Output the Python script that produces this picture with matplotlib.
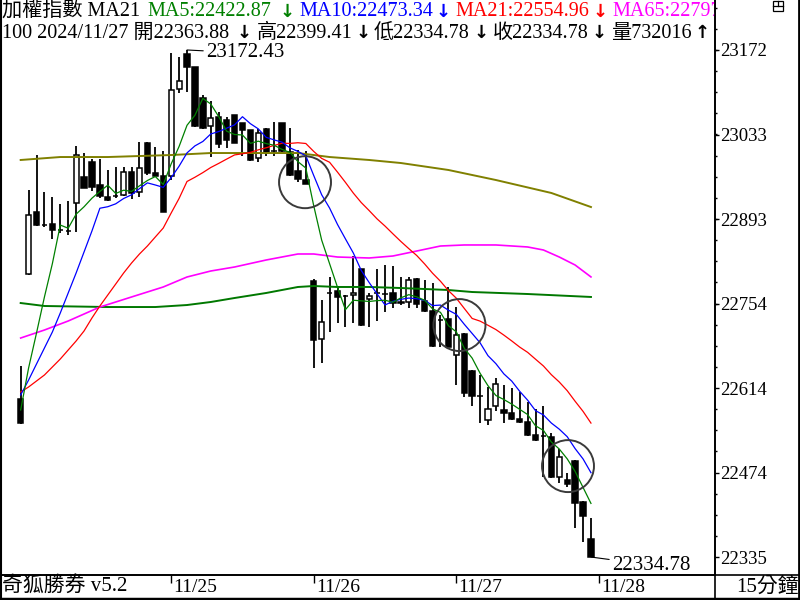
import numpy as np
import pandas as pd
import matplotlib
matplotlib.use("Agg")
import matplotlib.pyplot as plt
import matplotlib.transforms as mtransforms
from matplotlib.lines import Line2D
from matplotlib.patches import Rectangle
from matplotlib.ticker import AutoMinorLocator

plt.rcParams['font.family'] = ['Liberation Serif', 'Noto Sans CJK TC', 'DejaVu Sans']

# 15 minute bars of the TAIEX (tail of 11/22 .. 11/27)
opens = [22596, 22802, 22905, 22883, 22885, 22875, 22873, 22920, 22963, 22987,
         22949, 22930, 22931, 22933, 22971, 22938, 23019, 22969, 22964, 22964,
         23108, 23166, 23144, 23093, 23047, 23062, 23057, 23065, 23052, 23040,
         22994, 23042, 23006, 23052, 23004, 22973, 22958, 22791, 22695, 22771,
         22774, 22766, 22768, 22811, 22761, 22771, 22769, 22771, 22756, 22756,
         22794, 22758, 22741, 22726, 22728, 22669, 22703, 22642, 22601, 22561,
         22584, 22578, 22573, 22563, 22558, 22536, 22535, 22533, 22467, 22462,
         22493, 22426, 22363.88]
highs = [22650, 22941, 22999, 22938, 22930, 22918, 22923, 23014, 23002, 22992,
         22992, 22974, 22979, 22979, 22979, 23020, 23020, 23012, 23006, 23167,
         23161, 23172.43, 23144, 23098, 23088, 23070, 23062, 23065, 23052, 23040,
         23042, 23044, 23054, 23052, 23044, 23007, 23006, 22794, 22759, 22797,
         22779, 22768, 22832, 22811, 22771, 22811, 22817, 22816, 22797, 22797,
         22796, 22792, 22788, 22735, 22781, 22748, 22705, 22644, 22636, 22616,
         22631, 22619, 22614, 22607, 22591, 22579, 22584, 22540, 22513, 22474,
         22495, 22427, 22399.41]
lows = [22555, 22800, 22882, 22880, 22860, 22870, 22867, 22872, 22944, 22940,
        22928, 22923, 22928, 22931, 22926, 22930, 22966, 22963, 22905, 22957,
        23101, 23103, 23045, 23042, 22996, 23011, 23011, 23019, 22997, 22989,
        22987, 22997, 22997, 23004, 22964, 22954, 22951, 22647, 22655, 22707,
        22721, 22715, 22721, 22716, 22715, 22725, 22740, 22746, 22751, 22746,
        22746, 22740, 22682, 22682, 22682, 22619, 22599, 22584, 22556, 22553,
        22576, 22556, 22561, 22556, 22535, 22527, 22467, 22465, 22457, 22451,
        22383, 22360, 22334.78]
closes = [22556, 22900, 22883, 22883, 22875, 22875, 22874, 22999, 22944, 22946,
          22931, 22925, 22931, 22971, 22936, 22977, 22969, 22964, 22905, 23106,
          23121, 23144, 23047, 23044, 23060, 23017, 23024, 23019, 23040, 22991,
          23035, 23004, 23005, 23006, 22966, 22959, 22951, 22693, 22723, 22771,
          22764, 22766, 22771, 22718, 22766, 22771, 22769, 22754, 22755, 22792,
          22753, 22741, 22683, 22726, 22682, 22702, 22606, 22601, 22601, 22579,
          22621, 22573, 22563, 22558, 22536, 22528, 22535, 22467, 22500, 22455,
          22424, 22403, 22334.78]

# moving average values before the window is full
ma5_head = [22577.7, 22647.1, 22704.9, 22764.4]
ma10_head = [22602.5, 22627.2, 22653.7, 22680.1, 22706.5, 22737.9, 22771.0, 22804.0, 22838.7]
ma21_head = [22607.4, 22615.7, 22625.6, 22635.5, 22648.7, 22661.9, 22676.8, 22691.7, 22708.2,
             22729.7, 22749.5, 22767.7, 22785.8, 22804.0, 22820.5, 22835.4, 22848.6, 22863.5,
             22878.3, 22903.1]

ma65_idx = [0, 3, 6, 10, 14, 18, 21, 24, 27, 31, 35, 37, 40, 44, 47, 50, 53, 56, 60, 64, 66, 68, 70, 72]
ma65_val = [22696.6, 22709.8, 22724.7, 22747.8, 22764.4, 22780.9, 22797.4, 22807.3, 22813.9,
            22825.5, 22835.4, 22835.4, 22830.4, 22828.8, 22832.1, 22840.3, 22848.6, 22850.3,
            22850.3, 22847.0, 22842.0, 22830.4, 22817.2, 22797.5]

# long-period lines
olive_idx = [0, 5, 11, 19, 24, 31, 35, 37, 39, 44, 48, 54, 60, 67, 72]
olive_val = [22990.7, 22995.6, 22995.6, 22998.9, 23002.2, 23002.2, 23002.2, 22998.9, 22995.6,
             22990.7, 22985.7, 22974.2, 22957.6, 22936.2, 22913.0]
dgreen_idx = [0, 3, 11, 17, 21, 24, 27, 31, 35, 37, 40, 44, 48, 54, 57, 64, 72]
dgreen_val = [22754.4, 22749.5, 22747.8, 22747.8, 22751.1, 22756.1, 22762.7, 22771.0, 22780.9,
              22782.5, 22780.9, 22780.9, 22779.2, 22775.9, 22772.6, 22769.3, 22764.4]

# circled signals
sig_idx = [35.9, 55.4, 69.1]
sig_val = [22954, 22718, 22485]

day_idx = [19, 37, 55, 73]
day_labels = ['11/25', '11/26', '11/27', '11/28']
y_ticks = [22334.78, 22474.39, 22614.0, 22753.6, 22893.2, 23032.8, 23172.43]
y_labels = ['22335', '22474', '22614', '22754', '22893', '23033', '23172']

W, H = 800, 600
fig = plt.figure(figsize=(8, 6), dpi=100)
ax = fig.add_axes([0, 25 / H, 715 / W, 575 / H])

def apx(x, y):
    # pixel position (from the top-left corner) -> axes fraction
    return x / 715, 1 - y / 575

x = np.arange(len(closes))
o = np.array(opens); c = np.array(closes)
hi = np.array(highs); lo = np.array(lows)

# wicks
ax.vlines(x, lo, hi, color='black', lw=1.3, zorder=2)
# bodies
up = c > o
bottom = np.minimum(o, c)
height = np.abs(c - o)
ax.bar(x[up], height[up], bottom=bottom[up], width=0.64, color='white',
       edgecolor='black', linewidth=1.1, zorder=3)
ax.bar(x[~up], height[~up], bottom=bottom[~up], width=0.68, color='black',
       edgecolor='black', linewidth=1.1, zorder=3)

s = pd.Series(closes, dtype=float)
ma5 = s.rolling(5).mean().to_numpy()
ma5[:len(ma5_head)] = ma5_head
ma10 = s.rolling(10).mean().to_numpy()
ma10[:len(ma10_head)] = ma10_head
ma21 = s.rolling(21).mean().to_numpy()
ma21[:len(ma21_head)] = ma21_head

ax.plot(olive_idx, olive_val, color='#808000', lw=1.4, zorder=4)
ax.plot(dgreen_idx, dgreen_val, color='#007800', lw=1.4, zorder=4)
ax.plot(ma65_idx, ma65_val, color='#ff00ff', lw=1.2, zorder=4)
ax.plot(x, ma21, color='#ff0000', lw=0.9, zorder=5)
ax.plot(x, ma10, color='#0000ff', lw=0.9, zorder=5)
ax.plot(x, ma5, color='#008000', lw=0.9, zorder=5)

ax.scatter(sig_idx, sig_val, s=1400, facecolors='none', edgecolors='#3a3a3a',
           linewidths=1.4, zorder=6)

# high / low marks
ax.annotate('23172.43', xy=(21, max(highs)), xytext=(19, -3), textcoords='offset pixels',
            fontsize=15, ha='left', va='center',
            arrowprops=dict(arrowstyle='-', color='black', lw=0.8, shrinkA=0, shrinkB=0))
ax.annotate('22334.78', xy=(72, min(lows)), xytext=(21, -8), textcoords='offset pixels',
            fontsize=15, ha='left', va='center',
            arrowprops=dict(arrowstyle='-', color='black', lw=0.8, shrinkA=0, shrinkB=0))

ax.set_xlim(-2.61, 87.66)
ax.set_ylim(22305.1, 23255.0)

# right price axis
ax.yaxis.tick_right()
ax.set_yticks(y_ticks, labels=y_labels)
ax.yaxis.set_minor_locator(AutoMinorLocator(4))
ax.tick_params(axis='y', which='major', direction='out', length=3, width=1, pad=1, labelsize=13.5)
ax.tick_params(axis='y', which='minor', direction='out', length=1.5, width=1)

# day ticks on the time axis
ax.set_xticks(day_idx, labels=[''] * len(day_idx))
ax.tick_params(axis='x', direction='out', length=6, width=1)
blend = mtransforms.blended_transform_factory(ax.transData, ax.transAxes)
for d, lab in zip(day_idx, day_labels):
    ax.text(d + 0.3, -12 / 575, lab, transform=blend, fontsize=14, ha='left', va='center')

for side in ['top', 'left']:
    ax.spines[side].set_visible(False)
ax.spines['right'].set_linewidth(1.2)
ax.spines['bottom'].set_linewidth(1.2)

# header lines (text left edge / arrow centre, in pixels)
green, blue, red, mag = '#008000', '#0000ff', '#ff0000', '#ff00ff'
row1 = [('加權指數 MA21', 2, 'black'), ('MA5:22422.87', 147, green), ('↓', 287, green),
        ('MA10:22473.34', 299, blue), ('↓', 443, blue), ('MA21:22554.96', 455, red),
        ('↓', 600, red), ('MA65:22797', 612, mag)]
row2 = [('100 2024/11/27 開22363.88', 2, 'black'), ('↓', 244, 'black'), ('高22399.41', 257, 'black'),
        ('↓', 363, 'black'), ('低22334.78', 374, 'black'), ('↓', 481, 'black'),
        ('收22334.78', 493, 'black'), ('↓', 599, 'black'), ('量732016', 611, 'black'),
        ('↑', 702, 'black')]
for rowy, row in [(12, row1), (33, row2)]:
    for txt, px, col in row:
        if txt in ('↓', '↑'):
            ax.text(*apx(px, rowy), txt, transform=ax.transAxes, color=col, fontsize=13,
                    family='DejaVu Sans', fontweight='bold', ha='center', va='center', clip_on=True)
        else:
            ax.text(*apx(px, rowy), txt, transform=ax.transAxes, color=col, fontsize=14.5,
                    ha='left', va='center', clip_on=True)

# bottom strip texts
fig.text(2 / W, 13 / H, '奇狐勝券 v5.2', fontsize=15, ha='left', va='center')
fig.text(736 / W, 13 / H, '15分鐘', fontsize=15, ha='left', va='center')

# frame lines
def fline(x0, y0, x1, y1, lw=1.2):
    fig.add_artist(Line2D([x0 / W, x1 / W], [1 - y0 / H, 1 - y1 / H], color='black', lw=lw,
                          transform=fig.transFigure))

fline(0, 575, 800, 575)
fline(715, 0, 715, 600)
fline(0.7, 0, 0.7, 600, lw=1.5)
fline(799, 0, 799, 600, lw=2)
fline(0, 599, 800, 599, lw=2.5)

# window icon at top right
fig.add_artist(Rectangle((773 / W, 1 - 11 / H), 10 / W, 10 / H, fill=False, lw=0.9,
                         edgecolor='black', transform=fig.transFigure))
fline(773, 6, 783, 6, lw=0.9)
fline(778, 1, 778, 6, lw=0.9)

fig.savefig('out.png', dpi=100)
